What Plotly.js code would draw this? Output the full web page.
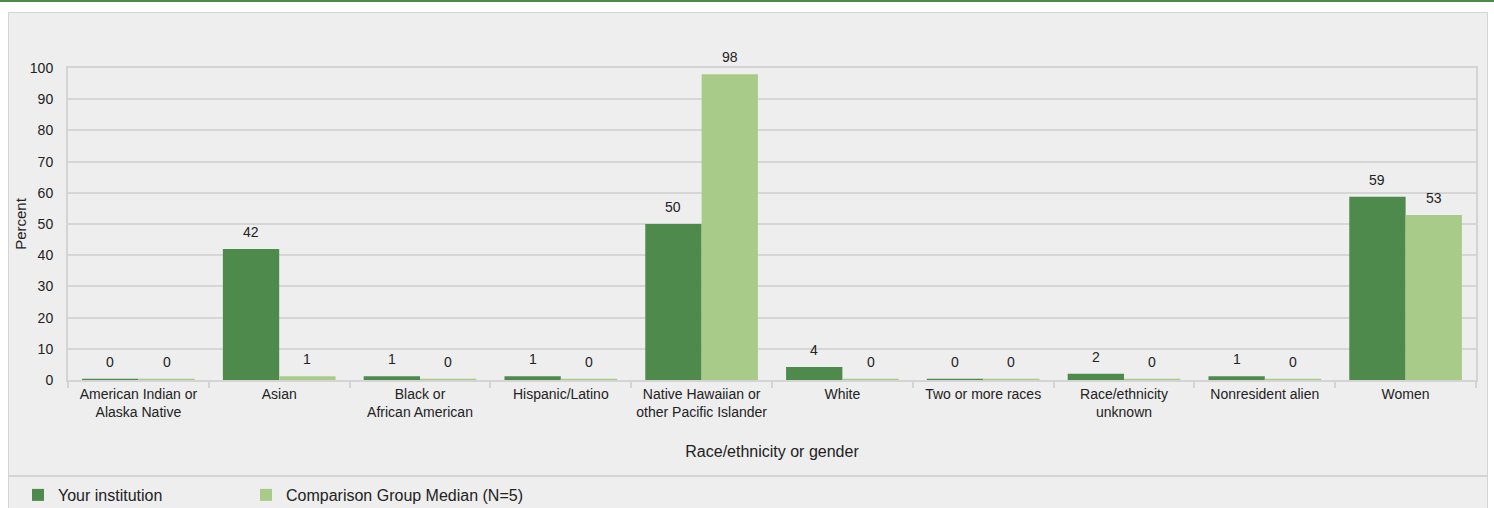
<!DOCTYPE html>
<html>
<head>
<meta charset="utf-8">
<script src="https://cdn.plot.ly/plotly-3.0.1.min.js"></script>
<style>
html,body{margin:0;padding:0;background:#ffffff;}
#chart{width:1494px;height:508px;}
</style>
</head>
<body>
<div id="chart"></div>
<script>
const categories = [
  "American Indian or<br>Alaska Native",
  "Asian",
  "Black or<br>African American",
  "Hispanic/Latino",
  "Native Hawaiian or<br>other Pacific Islander",
  "White",
  "Two or more races",
  "Race/ethnicity<br>unknown",
  "Nonresident alien",
  "Women"
];
const yourInstitution = [0.4, 42, 1.2, 1.2, 50, 4.2, 0.4, 2, 1.2, 58.7];
const comparisonMedian = [0.4, 1.2, 0.4, 0.4, 98, 0.4, 0.4, 0.4, 0.4, 52.9];
const seriesNames = ["Your institution", "Comparison Group Median (N=5)"];
const yTicks = [0, 10, 20, 30, 40, 50, 60, 70, 80, 90, 100];

const DARK = "#4e8a4c";
const LIGHT = "#a9cb89";
const FONT = "Arial, 'Liberation Sans', sans-serif";
const TXT = "#222222";

// plot area geometry (px)
const L = 68, R = 18, T = 68, B = 128, W = 1494, H = 508;
const pw = W - L - R, ph = H - T - B;
const px = x => (x - L) / pw;
const py = y => (H - B - y) / ph;

const traces = [
  {type: "bar", name: seriesNames[0], x: categories, y: yourInstitution,
   marker: {color: DARK}, hoverinfo: "none", legend: "legend"},
  {type: "bar", name: seriesNames[1], x: categories, y: comparisonMedian,
   marker: {color: LIGHT}, hoverinfo: "none", legend: "legend2"}
];

const barOffset = pw / categories.length * 0.8 / 4;
const annotations = [];
categories.forEach((c, i) => {
  annotations.push({x: c, y: yourInstitution[i], xref: "x", yref: "y",
    text: String(Math.round(yourInstitution[i])), showarrow: false,
    xshift: -barOffset, yshift: 7, yanchor: "bottom",
    font: {family: FONT, size: 14, color: TXT}});
  annotations.push({x: c, y: comparisonMedian[i], xref: "x", yref: "y",
    text: String(Math.round(comparisonMedian[i])), showarrow: false,
    xshift: barOffset, yshift: 7, yanchor: "bottom",
    font: {family: FONT, size: 14, color: TXT}});
});

const shapes = [
  // panel
  {type: "rect", xref: "paper", yref: "paper", layer: "below",
   x0: px(8.5), x1: px(1487.5), y0: py(512), y1: py(12.5),
   fillcolor: "#eeeeee", line: {color: "#d4d4d4", width: 1}},
  // legend separator
  {type: "line", xref: "paper", yref: "paper", layer: "below",
   x0: px(8.5), x1: px(1487.5), y0: py(476), y1: py(476),
   line: {color: "#d4d4d4", width: 2}},
  // top green rule
  {type: "rect", xref: "paper", yref: "paper", layer: "below",
   x0: px(0), x1: px(1494), y0: py(2), y1: py(0),
   fillcolor: DARK, line: {width: 0}}
];

const legendBase = {orientation: "h", xref: "container", yref: "container",
  y: 13 / H, xanchor: "left", yanchor: "middle",
  font: {family: FONT, size: 16, color: TXT},
  bgcolor: "rgba(0,0,0,0)", borderwidth: 0};

const layout = {
  width: W, height: H,
  margin: {l: L, r: R, t: T, b: B},
  paper_bgcolor: "#ffffff",
  plot_bgcolor: "rgba(0,0,0,0)",
  font: {family: FONT, size: 14, color: TXT},
  barmode: "group",
  bargap: 0.2,
  bargroupgap: 0,
  showlegend: true,
  legend: Object.assign({}, legendBase, {x: 18 / W}),
  legend2: Object.assign({}, legendBase, {x: 246 / W}),
  xaxis: {
    type: "category",
    showgrid: false,
    showline: true, linecolor: "#d4d4d4", linewidth: 2, mirror: true,
    ticks: "outside", tickson: "boundaries", ticklen: 6, tickwidth: 2, tickcolor: "#d4d4d4",
    tickangle: 0,
    tickfont: {family: FONT, size: 14, color: TXT},
    title: {text: "Race/ethnicity or gender", standoff: 27,
      font: {family: FONT, size: 16, color: TXT}},
    automargin: false,
    fixedrange: true
  },
  yaxis: {
    range: [0, 100],
    tickvals: yTicks,
    ticktext: yTicks.map(String),
    showgrid: true, gridcolor: "#d6d6d6", gridwidth: 2,
    zeroline: false,
    showline: true, linecolor: "#d4d4d4", linewidth: 2, mirror: true,
    ticks: "", ticklabelstandoff: 10,
    tickfont: {family: FONT, size: 14, color: TXT},
    title: {text: "Percent", standoff: 0,
      font: {family: FONT, size: 15, color: TXT}},
    automargin: false,
    fixedrange: true
  },
  annotations: annotations,
  shapes: shapes
};

Plotly.newPlot("chart", traces, layout, {displayModeBar: false, staticPlot: true});
</script>
</body>
</html>
